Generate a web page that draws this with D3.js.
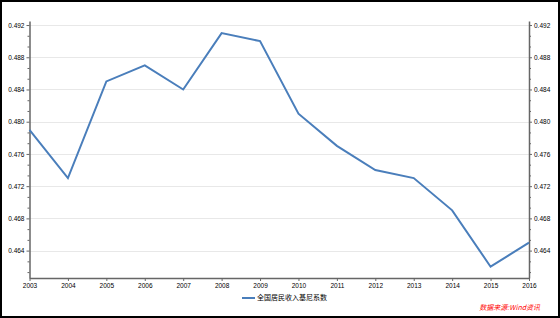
<!DOCTYPE html>
<html>
<head>
<meta charset="utf-8">
<script src="https://cdn.jsdelivr.net/npm/d3@7"></script>
<style>
  body { margin: 0; background: #fff; }
  svg { display: block; }
</style>
</head>
<body>
<div id="chart"></div>
<script>
// données
const years = [2003, 2004, 2005, 2006, 2007, 2008, 2009, 2010, 2011, 2012, 2013, 2014, 2015, 2016];
const gini = [0.479, 0.473, 0.485, 0.487, 0.484, 0.491, 0.490, 0.481, 0.477, 0.474, 0.473, 0.469, 0.462, 0.465];
const yTicks = [0.464, 0.468, 0.472, 0.476, 0.480, 0.484, 0.488, 0.492];
const seriesName = "全国居民收入基尼系数";
const sourceText = "数据来源:Wind资讯";

const width = 560;
const height = 318;
const marginLeft = 29.5;
const marginRight = 31;
const marginTop = 21;
const marginBottom = 40;

const x = d3.scaleLinear()
    .domain([years[0], years[years.length - 1]])
    .range([marginLeft, width - marginRight]);

const y = d3.scaleLinear()
    .domain([0.4606, 0.4925])
    .range([height - marginBottom, marginTop]);

// petites graduations : 3 intervalles entre chaque graduation principale
const minorTicks = [];
for (let i = 0; i < yTicks.length; i++) {
    for (let k = 1; k < 3; k++) {
        const v = yTicks[i] - k * 0.004 / 3;
        if (v > y.domain()[0]) minorTicks.push(v);
    }
}

const svg = d3.select("#chart").append("svg")
    .attr("width", width)
    .attr("height", height)
    .attr("viewBox", [0, 0, width, height])
    .attr("style", "font: 7px 'Liberation Sans', sans-serif;");

// cadre
svg.append("rect")
    .attr("x", 1)
    .attr("y", 1)
    .attr("width", width - 2)
    .attr("height", height - 2)
    .attr("fill", "#fff")
    .attr("stroke", "#000")
    .attr("stroke-width", 2);

// grille
svg.append("g")
    .selectAll("line")
    .data(yTicks)
    .join("line")
    .attr("x1", marginLeft)
    .attr("x2", width - marginRight)
    .attr("y1", d => Math.round(y(d)) + 0.5)
    .attr("y2", d => Math.round(y(d)) + 0.5)
    .attr("stroke", "#e8e8e8");

function styleAxis(g) {
    g.select(".domain").attr("stroke", "#666").attr("stroke-width", 1.5);
    g.selectAll(".tick line").attr("stroke", "#666");
    g.selectAll(".tick text").attr("fill", "#000").style("font", "6.5px 'Liberation Sans', sans-serif");
}

// axe gauche
svg.append("g")
    .attr("transform", `translate(${marginLeft},0)`)
    .call(d3.axisLeft(y).tickValues(yTicks).tickFormat(d3.format(".3f")).tickSize(3).tickSizeOuter(0).tickPadding(2))
    .call(styleAxis);

svg.append("g")
    .attr("transform", `translate(${marginLeft},0)`)
    .call(d3.axisLeft(y).tickValues(minorTicks).tickFormat("").tickSize(2).tickSizeOuter(0))
    .call(g => g.select(".domain").remove())
    .call(g => g.selectAll(".tick line").attr("stroke", "#666"));

// axe droit
svg.append("g")
    .attr("transform", `translate(${width - marginRight},0)`)
    .call(d3.axisRight(y).tickValues(yTicks).tickFormat(d3.format(".3f")).tickSize(3).tickSizeOuter(0).tickPadding(2))
    .call(styleAxis);

svg.append("g")
    .attr("transform", `translate(${width - marginRight},0)`)
    .call(d3.axisRight(y).tickValues(minorTicks).tickFormat("").tickSize(2).tickSizeOuter(0))
    .call(g => g.select(".domain").remove())
    .call(g => g.selectAll(".tick line").attr("stroke", "#666"));

// axe x
svg.append("g")
    .attr("transform", `translate(0,${height - marginBottom})`)
    .call(d3.axisBottom(x).tickValues(years).tickFormat(d3.format("d")).tickSize(3).tickSizeOuter(0).tickPadding(2))
    .call(styleAxis);

// ligne
const data = years.map((d, i) => ({ year: d, value: gini[i] }));
svg.append("path")
    .datum(data)
    .attr("fill", "none")
    .attr("stroke", "#4a7ebb")
    .attr("stroke-width", 2)
    .attr("d", d3.line()
        .x(d => x(d.year))
        .y(d => y(d.value)));

// légende
const legend = svg.append("g")
    .attr("transform", `translate(242,298)`);

legend.append("line")
    .attr("x1", 0)
    .attr("x2", 13)
    .attr("stroke", "#4a7ebb")
    .attr("stroke-width", 2);

legend.append("text")
    .attr("x", 15)
    .attr("dy", "0.35em")
    .attr("fill", "#000")
    .attr("style", "font: 7px 'Noto Sans CJK SC', sans-serif;")
    .text(seriesName);

// source
svg.append("text")
    .attr("x", 540)
    .attr("y", 310)
    .attr("text-anchor", "end")
    .attr("fill", "#ff0000")
    .attr("style", "font: italic 7px 'Noto Sans CJK SC', sans-serif;")
    .text(sourceText);
</script>
</body>
</html>
